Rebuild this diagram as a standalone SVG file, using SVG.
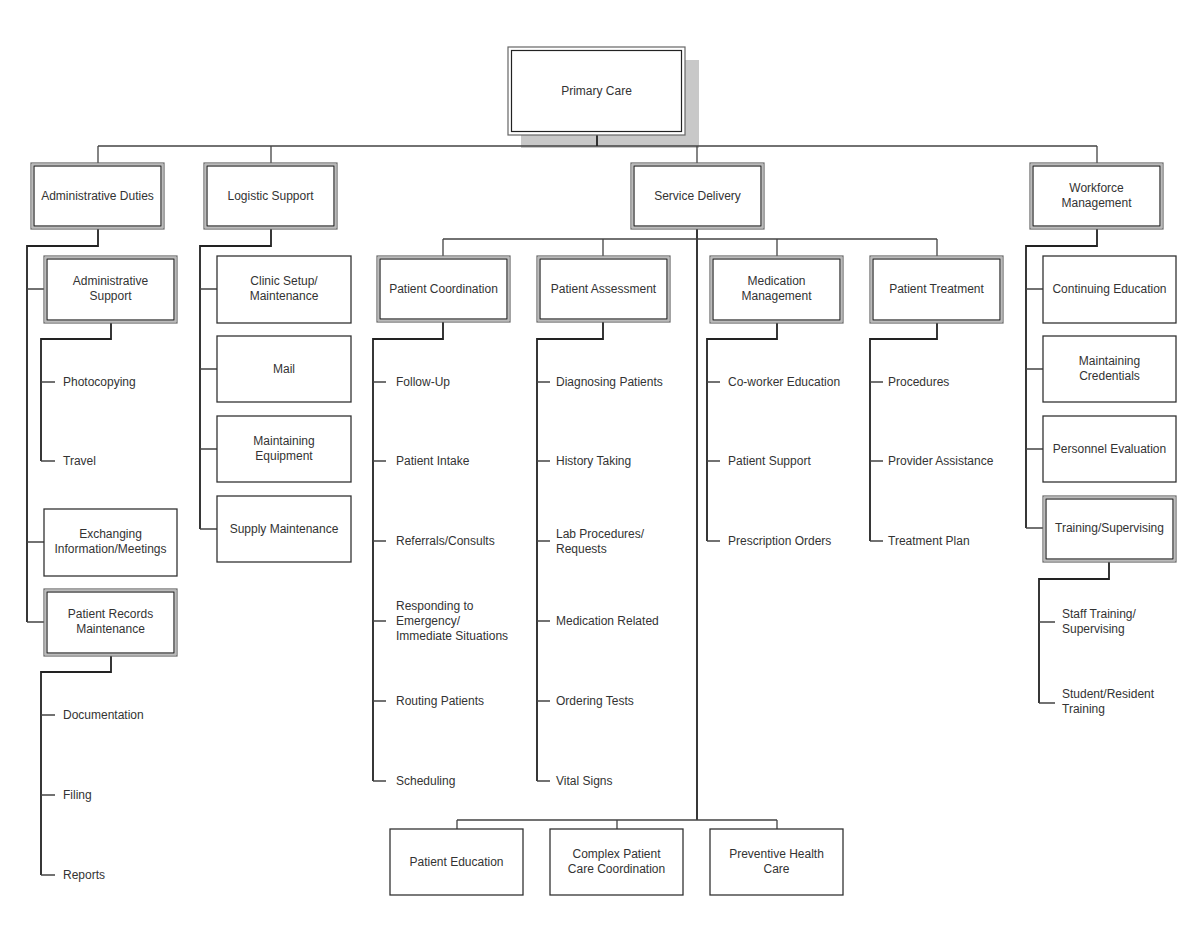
<svg xmlns="http://www.w3.org/2000/svg" width="1200" height="935" viewBox="0 0 1200 935">
<style>
text{font-family:"Liberation Sans",Arial,sans-serif;font-size:12px;fill:#333;text-anchor:middle}
text.l{text-anchor:start}
.o{fill:#fff;stroke:#666;stroke-width:1.2}
.g{fill:none;stroke:#bbb;stroke-width:1.3}
.i{fill:none;stroke:#222;stroke-width:1.2}
.s{fill:#fff;stroke:#333;stroke-width:1.3}
.t{fill:none;stroke:#222;stroke-width:1.8}
.b{fill:none;stroke:#444;stroke-width:1.3}
</style>
<rect width="1200" height="935" fill="#fff"/>
<rect x="521" y="60" width="178" height="88" fill="#c8c8c8"/>
<g id="connectors">
<path class="b" d="M98,146H1097M98,146V163M271,146V163M697,146V163M1097,146V163"/>
<path class="t" d="M597,135V146"/>
<path class="t" d="M98,229V246H27V622"/>
<path class="b" d="M27,289H44M27,542H44M27,622H44"/>
<path class="t" d="M111,323V339H41V461"/>
<path class="b" d="M41,382H55M41,461H55"/>
<path class="t" d="M111,656V672H41V875"/>
<path class="b" d="M41,715H55M41,795H55M41,875H55"/>
<path class="t" d="M271,229V246H200V529"/>
<path class="b" d="M200,289H217M200,369H217M200,449H217M200,529H217"/>
<path class="t" d="M697,229V820"/>
<path class="b" d="M443,239H937M443,239V256M603,239V256M777,239V256M937,239V256"/>
<path class="t" d="M443,322V339H373V781"/>
<path class="b" d="M373,382H386M373,461H386M373,541H386M373,621H386M373,701H386M373,781H386"/>
<path class="t" d="M603,322V339H537V781"/>
<path class="b" d="M537,382H550M537,461H550M537,541H550M537,621H550M537,701H550M537,781H550"/>
<path class="t" d="M777,323V339H707V541"/>
<path class="b" d="M707,382H720M707,461H720M707,541H720"/>
<path class="t" d="M937,323V339H870V541"/>
<path class="b" d="M870,382H883M870,461H883M870,541H883"/>
<path class="b" d="M457,820H777M457,820V829M617,820V829M777,820V829"/>
<path class="t" d="M1097,229V246H1026V528"/>
<path class="b" d="M1026,289H1043M1026,369H1043M1026,449H1043M1026,528H1043"/>
<path class="t" d="M1109,562V579H1039V703"/>
<path class="b" d="M1039,622H1055M1039,703H1055"/>
</g>
<g id="primary-care"><rect class="o" x="508" y="47" width="177" height="88" stroke="#333"/><rect class="i" x="511.5" y="50.5" width="170" height="81"/><text x="596.5" y="95">Primary Care</text></g>
<g id="administrative-duties"><rect class="o" x="31" y="163" width="133" height="66"/><rect class="g" x="32.5" y="164.5" width="130" height="63"/><rect class="i" x="34" y="166" width="127" height="60"/><text x="97.5" y="200">Administrative Duties</text></g>
<g id="logistic-support"><rect class="o" x="204" y="163" width="133" height="66"/><rect class="g" x="205.5" y="164.5" width="130" height="63"/><rect class="i" x="207" y="166" width="127" height="60"/><text x="270.5" y="200">Logistic Support</text></g>
<g id="service-delivery"><rect class="o" x="631" y="163" width="133" height="66"/><rect class="g" x="632.5" y="164.5" width="130" height="63"/><rect class="i" x="634" y="166" width="127" height="60"/><text x="697.5" y="200">Service Delivery</text></g>
<g id="workforce-management"><rect class="o" x="1030" y="163" width="133" height="66"/><rect class="g" x="1031.5" y="164.5" width="130" height="63"/><rect class="i" x="1033" y="166" width="127" height="60"/><text x="1096.5" y="192">Workforce</text><text x="1096.5" y="207">Management</text></g>
<g id="administrative-support"><rect class="o" x="44" y="256" width="133" height="67"/><rect class="g" x="45.5" y="257.5" width="130" height="64"/><rect class="i" x="47" y="259" width="127" height="61"/><text x="110.5" y="285">Administrative</text><text x="110.5" y="300">Support</text></g>
<g id="photocopying"><text class="l" x="63" y="386">Photocopying</text></g>
<g id="travel"><text class="l" x="63" y="465">Travel</text></g>
<g id="exchanging-information"><rect class="s" x="44" y="509" width="133" height="67"/><text x="110.5" y="538">Exchanging</text><text x="110.5" y="553">Information/Meetings</text></g>
<g id="patient-records"><rect class="o" x="44" y="589" width="133" height="67"/><rect class="g" x="45.5" y="590.5" width="130" height="64"/><rect class="i" x="47" y="592" width="127" height="61"/><text x="110.5" y="618">Patient Records</text><text x="110.5" y="633">Maintenance</text></g>
<g id="documentation"><text class="l" x="63" y="719">Documentation</text></g>
<g id="filing"><text class="l" x="63" y="799">Filing</text></g>
<g id="reports"><text class="l" x="63" y="879">Reports</text></g>
<g id="clinic-setup"><rect class="s" x="217" y="256" width="134" height="67"/><text x="284" y="285">Clinic Setup/</text><text x="284" y="300">Maintenance</text></g>
<g id="mail"><rect class="s" x="217" y="336" width="134" height="66"/><text x="284" y="373">Mail</text></g>
<g id="maintaining-equipment"><rect class="s" x="217" y="416" width="134" height="66"/><text x="284" y="445">Maintaining</text><text x="284" y="460">Equipment</text></g>
<g id="supply-maintenance"><rect class="s" x="217" y="496" width="134" height="66"/><text x="284" y="533">Supply Maintenance</text></g>
<g id="patient-coordination"><rect class="o" x="377" y="256" width="133" height="66"/><rect class="g" x="378.5" y="257.5" width="130" height="63"/><rect class="i" x="380" y="259" width="127" height="60"/><text x="443.5" y="293">Patient Coordination</text></g>
<g id="patient-assessment"><rect class="o" x="537" y="256" width="133" height="66"/><rect class="g" x="538.5" y="257.5" width="130" height="63"/><rect class="i" x="540" y="259" width="127" height="60"/><text x="603.5" y="293">Patient Assessment</text></g>
<g id="medication-management"><rect class="o" x="710" y="256" width="133" height="67"/><rect class="g" x="711.5" y="257.5" width="130" height="64"/><rect class="i" x="713" y="259" width="127" height="61"/><text x="776.5" y="285">Medication</text><text x="776.5" y="300">Management</text></g>
<g id="patient-treatment"><rect class="o" x="870" y="256" width="133" height="67"/><rect class="g" x="871.5" y="257.5" width="130" height="64"/><rect class="i" x="873" y="259" width="127" height="61"/><text x="936.5" y="293">Patient Treatment</text></g>
<g id="follow-up"><text class="l" x="396" y="386">Follow-Up</text></g>
<g id="patient-intake"><text class="l" x="396" y="465">Patient Intake</text></g>
<g id="referrals"><text class="l" x="396" y="545">Referrals/Consults</text></g>
<g id="responding"><text class="l" x="396" y="610">Responding to</text><text class="l" x="396" y="625">Emergency/</text><text class="l" x="396" y="640">Immediate Situations</text></g>
<g id="routing-patients"><text class="l" x="396" y="705">Routing Patients</text></g>
<g id="scheduling"><text class="l" x="396" y="785">Scheduling</text></g>
<g id="diagnosing"><text class="l" x="556" y="386">Diagnosing Patients</text></g>
<g id="history-taking"><text class="l" x="556" y="465">History Taking</text></g>
<g id="lab-procedures"><text class="l" x="556" y="538">Lab Procedures/</text><text class="l" x="556" y="553">Requests</text></g>
<g id="medication-related"><text class="l" x="556" y="625">Medication Related</text></g>
<g id="ordering-tests"><text class="l" x="556" y="705">Ordering Tests</text></g>
<g id="vital-signs"><text class="l" x="556" y="785">Vital Signs</text></g>
<g id="coworker-education"><text class="l" x="728" y="386">Co-worker Education</text></g>
<g id="patient-support"><text class="l" x="728" y="465">Patient Support</text></g>
<g id="prescription-orders"><text class="l" x="728" y="545">Prescription Orders</text></g>
<g id="procedures"><text class="l" x="888" y="386">Procedures</text></g>
<g id="provider-assistance"><text class="l" x="888" y="465">Provider Assistance</text></g>
<g id="treatment-plan"><text class="l" x="888" y="545">Treatment Plan</text></g>
<g id="patient-education"><rect class="s" x="390" y="829" width="133" height="66"/><text x="456.5" y="866">Patient Education</text></g>
<g id="complex-patient-care"><rect class="s" x="550" y="829" width="133" height="66"/><text x="616.5" y="858">Complex Patient</text><text x="616.5" y="873">Care Coordination</text></g>
<g id="preventive-health-care"><rect class="s" x="710" y="829" width="133" height="66"/><text x="776.5" y="858">Preventive Health</text><text x="776.5" y="873">Care</text></g>
<g id="continuing-education"><rect class="s" x="1043" y="256" width="133" height="67"/><text x="1109.5" y="293">Continuing Education</text></g>
<g id="maintaining-credentials"><rect class="s" x="1043" y="336" width="133" height="66"/><text x="1109.5" y="365">Maintaining</text><text x="1109.5" y="380">Credentials</text></g>
<g id="personnel-evaluation"><rect class="s" x="1043" y="416" width="133" height="66"/><text x="1109.5" y="453">Personnel Evaluation</text></g>
<g id="training-supervising"><rect class="o" x="1043" y="496" width="133" height="66"/><rect class="g" x="1044.5" y="497.5" width="130" height="63"/><rect class="i" x="1046" y="499" width="127" height="60"/><text x="1109.5" y="532">Training/Supervising</text></g>
<g id="staff-training"><text class="l" x="1062" y="618">Staff Training/</text><text class="l" x="1062" y="633">Supervising</text></g>
<g id="student-training"><text class="l" x="1062" y="698">Student/Resident</text><text class="l" x="1062" y="713">Training</text></g>
</svg>
